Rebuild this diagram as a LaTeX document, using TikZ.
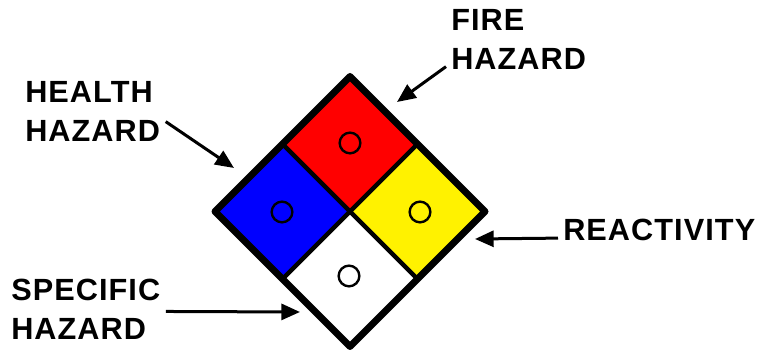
\documentclass[tikz,border=0pt]{standalone}
\usepackage{fontspec}
\setmainfont{Liberation Sans}
\usetikzlibrary{arrows.meta}

\begin{document}
\begin{tikzpicture}[x=0.75pt, y=-0.75pt, >={Triangle[length=14pt,width=12pt]},
  lbl/.style={anchor=north west, inner sep=0pt, align=left,
    font=\bfseries\fontsize{23}{29.25}\selectfont\addfontfeatures{LetterSpace=3.5}},
  ptr/.style={->, line width=2.25pt},
  dot/.style={circle, draw, line width=1.8pt, minimum size=15.5pt, inner sep=0pt}]
  \useasboundingbox (0,0) rectangle (758,352);
  % the four cells
  \foreach \name/\col/\x/\y in {fire/red/350/144, health/blue/282.5/211.5, react/yellow/417.5/211.5, spec/white/350/279} {
    \fill[\col] (\x,\y-67.5) -- (\x+67.5,\y) -- (\x,\y+67.5) -- (\x-67.5,\y) -- cycle;
  }
  \draw[line width=3.4pt] (282.5,144) -- (417.5,279);
  \draw[line width=3.4pt] (417.5,144) -- (282.5,279);
  \draw[line width=5.25pt, line join=round] (350,76.5) -- (485,211.5) -- (350,346.5) -- (215,211.5) -- cycle;
  % small circles
  \node[dot] (firedot) at (350,143) {};
  \node[dot] (healthdot) at (282,212) {};
  \node[dot] (reactdot) at (420,212) {};
  \node[dot] (specdot) at (349,276) {};
  % labels
  \node[lbl] (healthlbl) at (25,81) {HEALTH\\HAZARD};
  \node[lbl] (firelbl) at (451,9) {FIRE\\HAZARD};
  \node[lbl] (reactlbl) at (563,219) {REACTIVITY};
  \node[lbl] (speclbl) at (11,279) {SPECIFIC\\HAZARD};
  \coordinate (healthtip) at (234,168);
  \coordinate (firetip) at (397,102);
  \coordinate (reacttip) at (475,239);
  \coordinate (spectip) at (300,312);
  \draw[ptr] ([xshift=4pt, yshift=15pt]healthlbl.south east) -- (healthtip);
  \draw[ptr] ([xshift=-3.75pt, yshift=2.25pt]firelbl.south west) -- (firetip);
  \draw[ptr] ([xshift=-3.75pt, yshift=-6pt]reactlbl.west) -- (reacttip);
  \draw[ptr] ([xshift=4pt, yshift=-1.5pt]speclbl.east) -- (spectip);
\end{tikzpicture}
\end{document}
